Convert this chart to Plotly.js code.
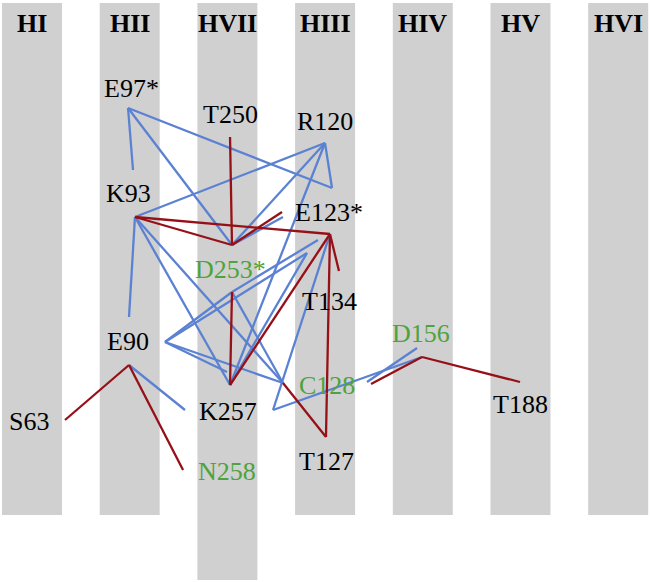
<!DOCTYPE html>
<html>
<head>
<meta charset="utf-8">
<script src="https://cdn.plot.ly/plotly-3.0.1.min.js"></script>
<style>html,body{margin:0;padding:0;background:#fff;}#chart{width:650px;height:582px;}</style>
</head>
<body>
<div id="chart"></div>
<script>
// Helices (bands), ordered left to right; x in helix-slot units
const helixNames = ["HI", "HII", "HVII", "HIII", "HIV", "HV", "HVI"];
const helixSlot  = [0, 1, 2, 3, 4, 5, 6];
const helixBottom = [515, 515, 580, 515, 515, 515, 515];

// Contact points (x = helix slot units, y = depth units, top = 0)
const pointNames = ["E97","E97s","K93","T250","D253","R120","E123","E123b","D253r","D253b","E123r",
  "T127","K257","P1","E90v","E90r","E90s","K257s","C128","Q","D156","T188","S63","N258","D156s",
  "Bst1","Bst2","G1","G2","H"];
const pointX = [0.983,1.034,1.054,2.027,2.047,2.999,3.050,3.071,2.559,2.569,3.142,
  3.009,2.027,2.047,1.361,0.993,0.993,1.996,2.569,2.467,3.992,4.995,0.338,1.546,3.470,
  3.429,3.941,2.815,2.927,1.566];
const pointY = [108,170,217,137,245,143,234,188,212,217,271,
  437,385,292,342,365,317,372,383,410,357,382,420,470,384,
  382,348,253,240,410];

// Interaction edges
const redEdges = [["T250","D253"],["K93","D253"],["K93","E123"],["D253","D253r"],["E123","E123r"],
  ["E123","T127"],["E123","K257"],["C128","T127"],["P1","K257"],["S63","E90r"],["E90r","N258"],
  ["D156","T188"],["D156","D156s"]];
const blueEdges = [["E97","E97s"],["E97","D253"],["E97","E123b"],["R120","E123b"],["K93","R120"],
  ["D253","R120"],["D253","D253b"],["K93","E90s"],["K93","K257"],["K93","C128"],["E90v","P1"],
  ["E90v","G1"],["E90v","K257s"],["E90v","C128"],["P1","C128"],["P1","G2"],["R120","K257"],
  ["Q","E123"],["Q","D156"],["Bst1","Bst2"],["E90r","H"],["K257","G1"]];

// Residue labels
const labelText  = ["E97*","T250","R120","K93","E123*","D253*","T134","D156","E90","C128","S63","K257","T188","T127","N258"];
const labelX     = [1.014,2.027,3.0,0.988,3.04,2.036,3.05,3.981,0.983,3.019,-0.031,2.006,4.995,3.019,1.996];
const labelY     = [88,114,121,193,212,269,301,333,341,385,421,411,404,461,471];
const labelGreen = [false,false,false,false,false,true,false,true,false,true,false,false,false,false,true];

const serif = "Liberation Serif";
const xOf = n => pointX[pointNames.indexOf(n)];
const yOf = n => pointY[pointNames.indexOf(n)];
function edgeTrace(edges, color) {
  const x = [], y = [];
  edges.forEach(([a, b]) => { x.push(xOf(a), xOf(b), null); y.push(yOf(a), yOf(b), null); });
  return {type: "scatter", mode: "lines", x, y, hoverinfo: "skip", showlegend: false,
    line: {color, width: 2.3}};
}

const halfW = 0.307;
const shapes = helixSlot.map((s, i) => ({type: "rect", xref: "x", yref: "y", layer: "below",
  x0: s - halfW, x1: s + halfW, y0: 3, y1: helixBottom[i],
  fillcolor: "#d0d0d0", line: {width: 0}}));

const annotations = helixNames.map((n, i) => ({x: helixSlot[i], y: 23, xref: "x", yref: "y",
  text: "<b>" + n + "</b>", showarrow: false, xanchor: "center", yanchor: "middle",
  font: {family: serif, size: 26, color: "#000"}}))
  .concat(labelText.map((t, i) => ({x: labelX[i], y: labelY[i], xref: "x", yref: "y", text: t,
  showarrow: false, xanchor: "center", yanchor: "middle",
  font: {family: serif, size: 26, color: labelGreen[i] ? "#4ea33c" : "#000"}})));

const layout = {
  width: 650, height: 582, margin: {l: 0, r: 0, t: 0, b: 0},
  paper_bgcolor: "#fff", plot_bgcolor: "#fff",
  font: {family: serif},
  xaxis: {range: [-0.3275, 6.3255], visible: false, fixedrange: true},
  yaxis: {range: [582, 0], visible: false, fixedrange: true},
  shapes, annotations, showlegend: false
};
Plotly.newPlot("chart", [edgeTrace(blueEdges, "#5b82d2"), edgeTrace(redEdges, "#961117")], layout,
  {staticPlot: true, displayModeBar: false}).then(() => {
  document.querySelectorAll(".annotation-text").forEach(el => {
    el.style.fontFamily = "'Liberation Serif', 'DejaVu Serif', serif";
  });
});
</script>
</body>
</html>
